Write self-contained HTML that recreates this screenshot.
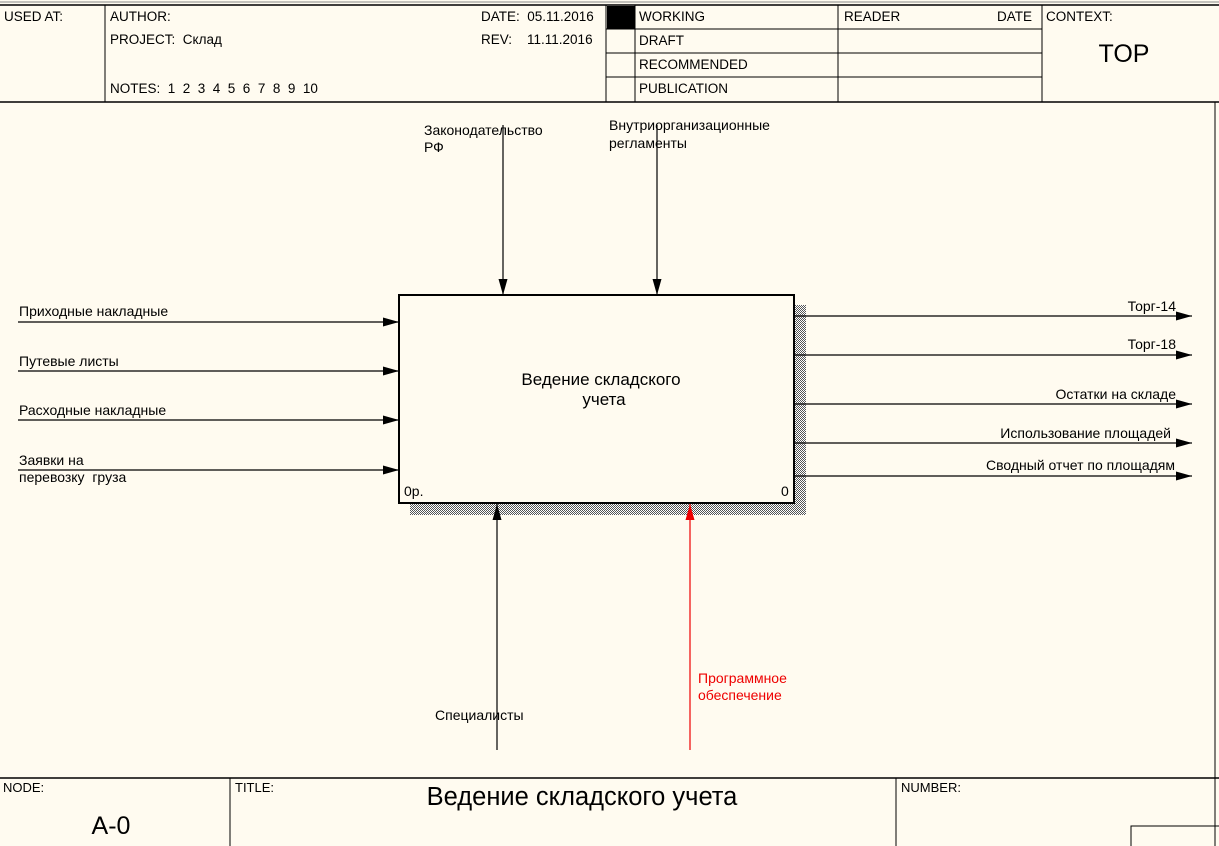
<!DOCTYPE html>
<html><head><meta charset="utf-8"><style>
body{margin:0;background:#fffbf0;}
svg{display:block;font-family:"Liberation Sans",Arial,sans-serif;}
text{white-space:pre;}
</style></head><body>
<svg width="1219" height="846" viewBox="0 0 1219 846" xmlns="http://www.w3.org/2000/svg" xml:space="preserve">
<defs>
<pattern id="h" width="2" height="2" patternUnits="userSpaceOnUse"><rect width="2" height="2" fill="#fff"/><rect width="1" height="1" fill="#555"/><rect x="1" y="1" width="1" height="1" fill="#555"/></pattern>
<marker id="a" markerWidth="16" markerHeight="10" refX="16" refY="5" orient="auto" markerUnits="userSpaceOnUse"><path d="M0,0.5 L16,5 L0,9.5 z" fill="#000"/></marker>
<marker id="r" markerWidth="16" markerHeight="10" refX="16" refY="5" orient="auto" markerUnits="userSpaceOnUse"><path d="M0,0.5 L16,5 L0,9.5 z" fill="#e00"/></marker>
</defs>
<rect width="1219" height="846" fill="#fffbf0"/>
<line x1="0" y1="2" x2="1219" y2="2" stroke="#888" stroke-width="1"/>
<line x1="0" y1="5" x2="1219" y2="5" stroke="#000" stroke-width="1.5"/>
<line x1="0" y1="102" x2="1219" y2="102" stroke="#000" stroke-width="1.5"/>
<g stroke="#000" stroke-width="1">
<line x1="105" y1="5" x2="105" y2="102"/>
<line x1="606" y1="5" x2="606" y2="102"/>
<line x1="635" y1="5" x2="635" y2="102"/>
<line x1="838" y1="5" x2="838" y2="102"/>
<line x1="1042" y1="5" x2="1042" y2="102"/>
<line x1="606" y1="29" x2="1042" y2="29"/>
<line x1="606" y1="53" x2="1042" y2="53"/>
<line x1="606" y1="77" x2="1042" y2="77"/>
</g>
<rect x="607" y="6" width="28" height="23" fill="#000"/>
<g font-size="13.5" fill="#000">
<text x="4" y="21">USED AT:</text>
<text x="110" y="21">AUTHOR:</text>
<text x="110" y="44">PROJECT:  Склад</text>
<text x="110" y="93">NOTES:  1  2  3  4  5  6  7  8  9  10</text>
<text x="481" y="21">DATE:  05.11.2016</text>
<text x="481" y="44">REV:    11.11.2016</text>
<text x="639" y="21">WORKING</text>
<text x="639" y="45">DRAFT</text>
<text x="639" y="69">RECOMMENDED</text>
<text x="639" y="93">PUBLICATION</text>
<text x="844" y="21">READER</text>
<text x="997" y="21">DATE</text>
<text x="1046" y="21">CONTEXT:</text>
</g>
<text x="1124" y="62" font-size="25" text-anchor="middle">TOP</text>
<rect x="794" y="305" width="12" height="210" fill="url(#h)"/>
<rect x="410" y="503" width="396" height="12" fill="url(#h)"/>
<rect x="399" y="295" width="395" height="208" fill="#fffbf0" stroke="#000" stroke-width="2"/>
<text x="601" y="385" font-size="17" text-anchor="middle">Ведение складского</text>
<text x="604" y="405" font-size="17" text-anchor="middle">учета</text>
<text x="404" y="496" font-size="14">0р.</text>
<text x="781" y="496" font-size="14">0</text>
<g stroke="#000" stroke-width="1.2" fill="none">
<line x1="18" y1="322" x2="399" y2="322" marker-end="url(#a)"/>
<line x1="18" y1="371" x2="399" y2="371" marker-end="url(#a)"/>
<line x1="18" y1="420" x2="399" y2="420" marker-end="url(#a)"/>
<line x1="18" y1="470" x2="399" y2="470" marker-end="url(#a)"/>
<line x1="503" y1="125" x2="503" y2="295" marker-end="url(#a)"/>
<line x1="657" y1="125" x2="657" y2="295" marker-end="url(#a)"/>
<line x1="497" y1="750" x2="497" y2="504" marker-end="url(#a)"/>
<line x1="794" y1="316" x2="1192" y2="316" marker-end="url(#a)"/>
<line x1="794" y1="355" x2="1192" y2="355" marker-end="url(#a)"/>
<line x1="794" y1="404" x2="1192" y2="404" marker-end="url(#a)"/>
<line x1="794" y1="443" x2="1192" y2="443" marker-end="url(#a)"/>
<line x1="794" y1="476" x2="1192" y2="476" marker-end="url(#a)"/>
</g>
<line x1="690" y1="750" x2="690" y2="504" stroke="#e00" stroke-width="1.2" marker-end="url(#r)"/>
<g font-size="14" fill="#000">
<text x="19" y="316">Приходные накладные</text>
<text x="19" y="366">Путевые листы</text>
<text x="19" y="415">Расходные накладные</text>
<text x="19" y="465">Заявки на</text>
<text x="19" y="482">перевозку  груза</text>
<text x="424" y="135">Законодательство</text>
<text x="424" y="152">РФ</text>
<text x="609" y="130">Внутриорганизационные</text>
<text x="609" y="148">регламенты</text>
<text x="435" y="720">Специалисты</text>
<text x="1176" y="311" text-anchor="end">Торг-14</text>
<text x="1176" y="349" text-anchor="end">Торг-18</text>
<text x="1176" y="399" text-anchor="end">Остатки на складе</text>
<text x="1171" y="438" text-anchor="end">Использование площадей</text>
<text x="1175" y="470" text-anchor="end">Сводный отчет по площадям</text>
</g>
<g font-size="14" fill="#e00">
<text x="698" y="683">Программное</text>
<text x="698" y="700">обеспечение</text>
</g>
<line x1="0" y1="778" x2="1219" y2="778" stroke="#000" stroke-width="1.5"/>
<line x1="1215" y1="102" x2="1215" y2="846" stroke="#000" stroke-width="1"/>
<line x1="230" y1="778" x2="230" y2="846" stroke="#000"/>
<line x1="896" y1="778" x2="896" y2="846" stroke="#000"/>
<polyline points="1131,846 1131,826 1219,826" fill="none" stroke="#000"/>
<g font-size="13" fill="#000">
<text x="3" y="792">NODE:</text>
<text x="235" y="792">TITLE:</text>
<text x="901" y="792">NUMBER:</text>
</g>
<text x="111" y="834" font-size="25" text-anchor="middle">A-0</text>
<text x="582" y="805" font-size="25.5" text-anchor="middle">Ведение складского учета</text>
</svg>
</body></html>
